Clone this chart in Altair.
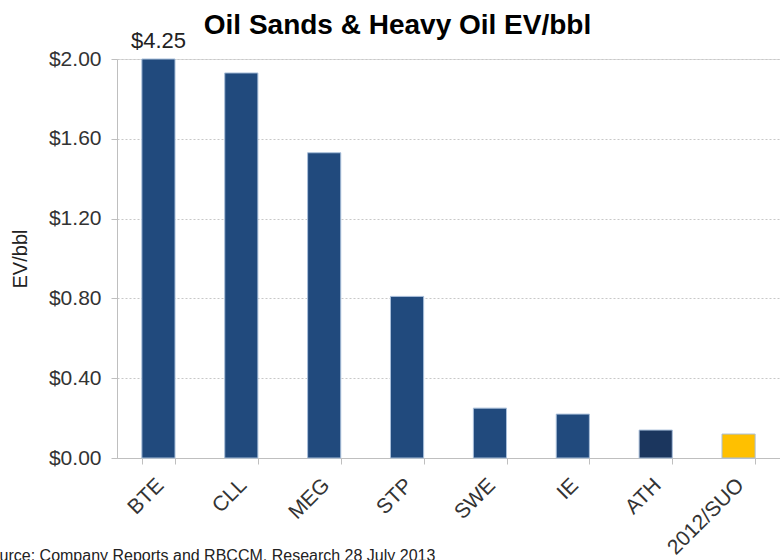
import altair as alt
import pandas as pd

# Enterprise value per barrel of resource, by company
companies = ["BTE", "CLL", "MEG", "STP", "SWE", "IE", "ATH", "2012/SUO"]
ev_per_bbl = [4.25, 1.93, 1.53, 0.81, 0.25, 0.22, 0.14, 0.12]
bar_colors = ["#214A7D", "#214A7D", "#214A7D", "#214A7D", "#214A7D", "#214A7D", "#1B365E", "#FFC000"]
y_ticks = [0.0, 0.4, 0.8, 1.2, 1.6, 2.0]

# Only the bar running off the top of the scale carries a value label
value_labels = ["$4.25", "", "", "", "", "", "", ""]

source_note = "Source: Company Reports and RBCCM, Research 28 July 2013"

df = pd.DataFrame({
    "company": companies,
    "ev": ev_per_bbl,
    "color": bar_colors,
    "label": value_labels,
})

FONT = "Liberation Sans"

x_enc = alt.X(
    "company:N",
    sort=companies,
    title=None,
    scale=alt.Scale(paddingInner=0.6, paddingOuter=0.3),
    axis=alt.Axis(
        labelAngle=-45,
        labelFontSize=21,
        labelFont=FONT,
        labelColor="#333333",
        labelPadding=10,
        labelOffset=-6,
        domainColor="#BFBFBF",
        tickColor="#BFBFBF",
        tickSize=6,
        tickBand="extent",
        grid=False,
    ),
)

y_scale = alt.Scale(domain=[0, 2], clamp=True, nice=False)

bars = alt.Chart(df).mark_bar(stroke="#A9BFDA", strokeWidth=1).encode(
    x=x_enc,
    y=alt.Y(
        "ev:Q",
        scale=y_scale,
        title="EV/bbl",
        axis=alt.Axis(
            values=y_ticks,
            format="$.2f",
            labelFontSize=21,
            labelFont=FONT,
            labelColor="#333333",
            labelPadding=10,
            titleFont=FONT,
            titleFontSize=20,
            titleFontWeight="normal",
            titleColor="#222222",
            titlePadding=18,
            domainColor="#BFBFBF",
            tickColor="#BFBFBF",
            tickSize=6,
            gridColor="#C8C8C8",
            gridDash=[2, 2],
            gridWidth=1,
        ),
    ),
    color=alt.Color("color:N", scale=None, legend=None),
)

labels = alt.Chart(df).mark_text(
    baseline="alphabetic", dy=-11, fontSize=22, font=FONT, color="#222222"
).encode(
    x=alt.X("company:N", sort=companies),
    y=alt.Y("ev:Q", scale=y_scale),
    text="label:N",
)

note = alt.Chart(pd.DataFrame({"note": [source_note]})).mark_text(
    align="left", baseline="alphabetic", fontSize=16, font=FONT, color="#222222"
).encode(
    x=alt.value(-137),
    y=alt.value(502),
    text="note:N",
)

chart = alt.layer(bars, labels, note).properties(
    width=663,
    height=399,
    title=alt.TitleParams(
        "Oil Sands & Heavy Oil EV/bbl",
        font=FONT,
        fontSize=28,
        fontWeight="bold",
        color="#000000",
        anchor="middle",
        dx=-51,
        dy=32,
        offset=22,
    ),
    autosize=alt.AutoSizeParams(type="none"),
    padding={"left": 117, "top": 59, "right": 0, "bottom": 102},
).configure_view(stroke=None).configure(background="white")

chart.save("out.html", embed_options={"renderer": "svg", "actions": False})
